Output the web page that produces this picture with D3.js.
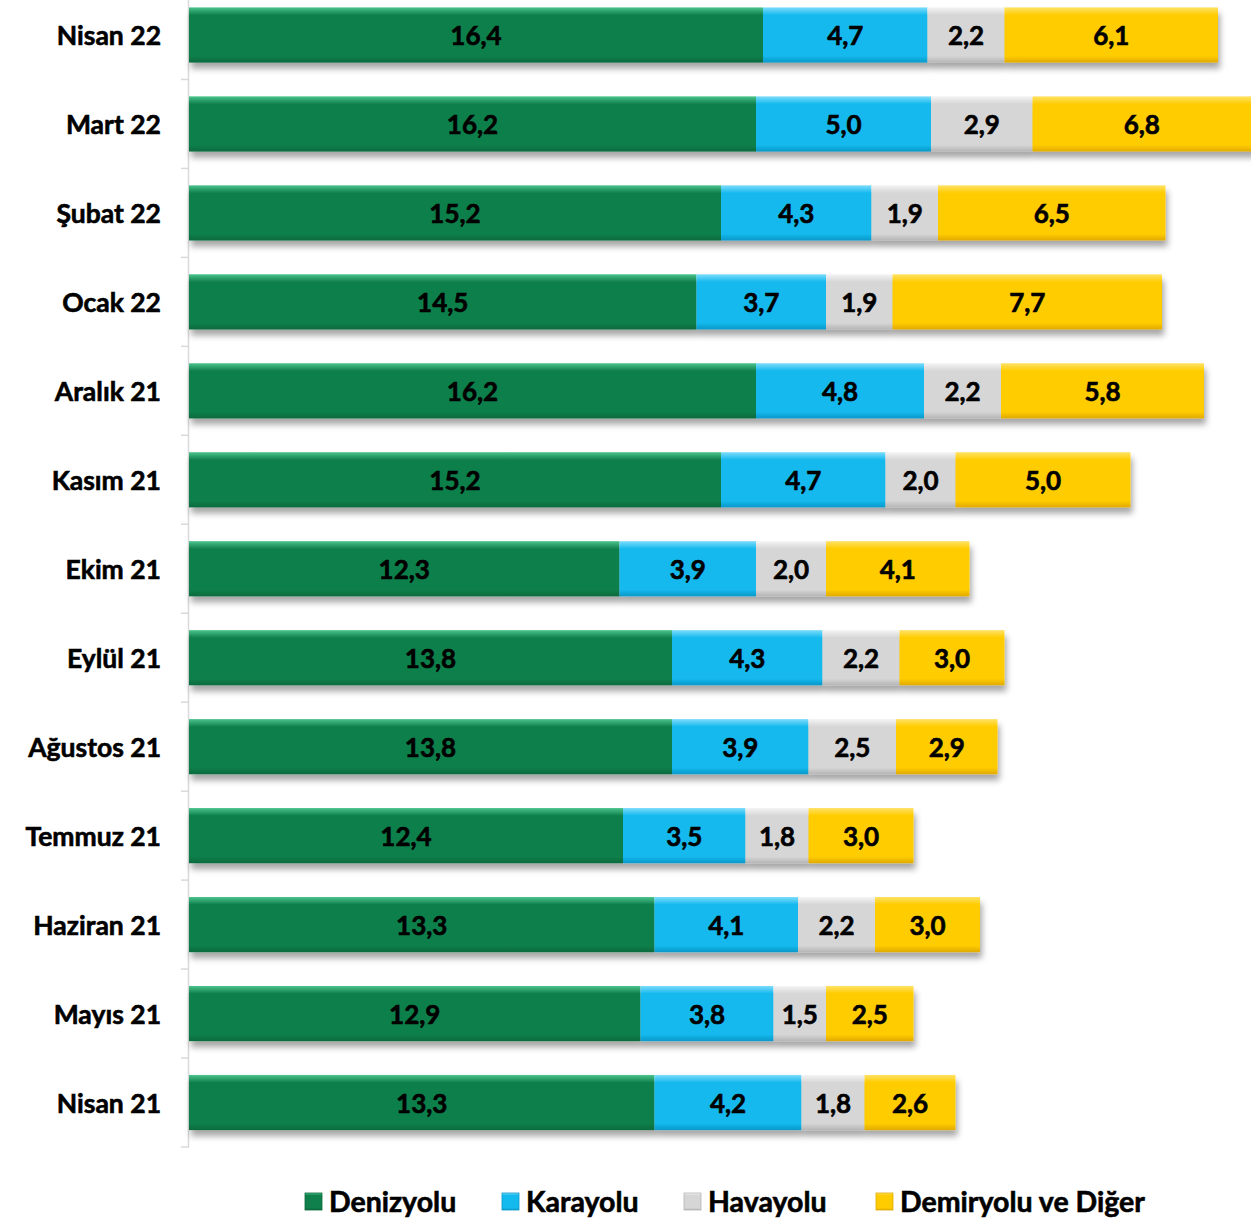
<!DOCTYPE html>
<html>
<head>
<meta charset="utf-8">
<script src="https://cdn.jsdelivr.net/npm/d3@7"></script>
<style>
  body { margin: 0; background: #fff; }
  svg text { font-family: Lato, "Open Sans", sans-serif; font-weight: bold; stroke: #000; stroke-width: 0.6px; }
</style>
</head>
<body>
<svg id="chart" width="1251" height="1227"></svg>
<script>
const months = ["Nisan 22", "Mart 22", "Şubat 22", "Ocak 22", "Aralık 21", "Kasım 21", "Ekim 21",
  "Eylül 21", "Ağustos 21", "Temmuz 21", "Haziran 21", "Mayıs 21", "Nisan 21"]
const denizyolu = [16.4, 16.2, 15.2, 14.5, 16.2, 15.2, 12.3, 13.8, 13.8, 12.4, 13.3, 12.9, 13.3]
const karayolu = [4.7, 5.0, 4.3, 3.7, 4.8, 4.7, 3.9, 4.3, 3.9, 3.5, 4.1, 3.8, 4.2]
const havayolu = [2.2, 2.9, 1.9, 1.9, 2.2, 2.0, 2.0, 2.2, 2.5, 1.8, 2.2, 1.5, 1.8]
const demiryolu = [6.1, 6.8, 6.5, 7.7, 5.8, 5.0, 4.1, 3.0, 2.9, 3.0, 3.0, 2.5, 2.6]
const seriesNames = ["Denizyolu", "Karayolu", "Havayolu", "Demiryolu ve Diğer"]

const colors = [
  { base: "#0f7f4b", light: "#4cc48c", dark: "#0a6a3d" },
  { base: "#14b9ee", light: "#7ddcfb", dark: "#0a98c8" },
  { base: "#d6d6d6", light: "#f4f4f4", dark: "#b5b5b5" },
  { base: "#ffcc00", light: "#ffe266", dark: "#e0aa00" }
]

var rows = months.map(function(m, i) {
  return { month: m, values: [denizyolu[i], karayolu[i], havayolu[i], demiryolu[i]] }
})

var svg = d3.select("#chart")
var defs = svg.append("defs")

colors.forEach(function(c, i) {
  var g = defs.append("linearGradient").attr("id", "grad" + i)
    .attr("x1", 0).attr("y1", 0).attr("x2", 0).attr("y2", 1)
  g.append("stop").attr("offset", "0%").attr("stop-color", c.light)
  g.append("stop").attr("offset", "14%").attr("stop-color", c.base)
  g.append("stop").attr("offset", "88%").attr("stop-color", c.base)
  g.append("stop").attr("offset", "100%").attr("stop-color", c.dark)
})

var shadow = defs.append("filter").attr("id", "shadow")
  .attr("x", "-5%").attr("y", "-20%").attr("width", "110%").attr("height", "160%")
shadow.append("feDropShadow").attr("dx", 2).attr("dy", 6).attr("stdDeviation", 3)
  .attr("flood-color", "#000").attr("flood-opacity", 0.35)

var x0 = 189
var x = d3.scaleLinear().domain([0, 1]).range([x0, x0 + 35.0])

var y = d3.scaleBand().domain(months).range([-9.5, 1147]).paddingInner(0.38).paddingOuter(0.19)

// axis line and ticks
var axis = svg.append("g")
axis.append("line").attr("x1", x0 - 0.5).attr("x2", x0 - 0.5).attr("y1", 0).attr("y2", 1147)
  .attr("stroke", "#d9d9d9").attr("stroke-width", 1.5)
var step = y.step()
d3.range(months.length).forEach(function(i) {
  var yy = y(months[i]) - y.paddingOuter() * step + step
  axis.append("line").attr("x1", x0 - 8).attr("x2", x0).attr("y1", yy).attr("y2", yy)
    .attr("stroke", "#d9d9d9").attr("stroke-width", 1.5)
})

var rowG = svg.append("g").selectAll("g.row")
  .data(rows)
  .enter()
  .append("g")
  .attr("class", "row")
  .attr("transform", function(d) { return "translate(0," + y(d.month) + ")" })

rowG.each(function(d) {
  var g = d3.select(this)
  var start = 0
  var segs = d.values.map(function(v, i) {
    var s = { v: v, i: i, start: start }
    start += v
    return s
  })
  g.append("g").attr("filter", "url(#shadow)")
    .selectAll("rect")
    .data(segs)
    .enter()
    .append("rect")
    .attr("x", function(s) { return x(s.start) })
    .attr("width", function(s) { return x(s.start + s.v) - x(s.start) })
    .attr("y", 0)
    .attr("height", y.bandwidth())
    .attr("fill", function(s) { return "url(#grad" + s.i + ")" })

  g.selectAll("text")
    .data(segs)
    .enter()
    .append("text")
    .attr("x", function(s) { return (x(s.start) + Math.min(x(s.start + s.v), 1251)) / 2 })
    .attr("y", y.bandwidth() / 2 + 10)
    .attr("text-anchor", "middle")
    .attr("font-size", 26)
    .attr("fill", "#000")
    .text(function(s) { return d3.format(".1f")(s.v).replace(".", ",") })
})

// category labels
svg.append("g").selectAll("text")
  .data(months)
  .enter()
  .append("text")
  .attr("x", 161)
  .attr("y", function(m) { return y(m) + y.bandwidth() / 2 + 10 })
  .attr("text-anchor", "end")
  .attr("font-size", 26.5)
  .attr("fill", "#000")
  .text(function(m) { return m })

// legend
var legendX = [305, 502, 684, 876]
var legend = svg.append("g").selectAll("g")
  .data(seriesNames)
  .enter()
  .append("g")
  .attr("transform", function(d, i) { return "translate(" + legendX[i] + ",1193)" })
legend.append("rect").attr("width", 17).attr("height", 17)
  .attr("fill", function(d, i) { return "url(#grad" + i + ")" })
  .attr("stroke", function(d, i) { return colors[i].dark }).attr("stroke-width", 0.8)
legend.append("text").attr("x", 24).attr("y", 19).attr("font-size", 28.5).attr("fill", "#000")
  .text(function(d) { return d })
</script>
</body>
</html>
